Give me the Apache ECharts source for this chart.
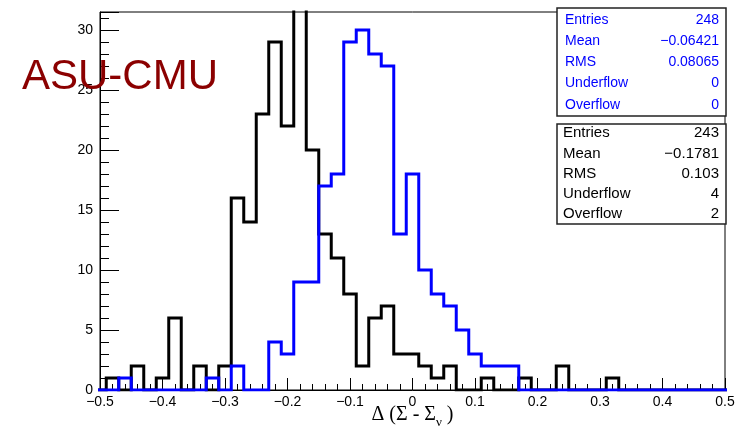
<!DOCTYPE html>
<html>
<head>
<meta charset="utf-8">
<script src="https://cdn.jsdelivr.net/npm/echarts@6/dist/echarts.min.js"></script>
<style>
html,body{margin:0;padding:0;background:#fff;}
#chart{width:744px;height:433px;}
</style>
</head>
<body>
<div id="chart"></div>
<script>
// ---- data ----
const binLow = -0.51;      // lower edge of first bin
const binWidth = 0.02;     // bin width
// counts per bin (bin centres -0.50, -0.48, ..., 0.50)
const blackCounts = [0,1,0,2,0,1,6,0,2,0,2,16,14,23,29,22,36,20,13,11,8,2,6,7,3,3,2,1,2,0,0,1,0,0,1,0,0,2,0,0,0,1,0,0,0,0,0,0,0,0,0];
const blueCounts  = [0,0,1,0,0,0,0,0,0,1,0,2,0,0,4,3,9,9,17,18,29,30,28,27,13,18,10,8,7,5,3,2,2,2,0,0,0,0,0,0,0,0,0,0,0,0,0,0,0,0,0];
const statLabels = ['Entries','Mean','RMS','Underflow','Overflow'];
const blueStats  = ['248','\u22120.06421','0.08065','0','0'];
const blackStats = ['243','\u22120.1781','0.103','4','2'];
const xTitle = '\u0394 (\u03A3 - \u03A3';
const xTitleSub = '\u03BD';
const brand = 'ASU-CMU';

function toSteps(counts){
  const pts = counts.map((c,i)=>[+(binLow+i*binWidth).toFixed(6), c]);
  pts.push([+(binLow+counts.length*binWidth).toFixed(6), counts[counts.length-1]]);
  return pts;
}
const SANS = 'Liberation Sans, Arial, sans-serif';
function fmtNum(v){
  if (Math.abs(v) < 1e-9) return '0';
  const s = Math.abs(v).toFixed(1);
  return (v < 0 ? '\u2212' : '') + s;
}
function statBox(x, y, w, h, rowY, color, fs, lx, rx, vals){
  const children = [{type:'rect', shape:{x:x,y:y,width:w,height:h}, style:{fill:'#fff', stroke:'#222', lineWidth:1.5}}];
  statLabels.forEach((l,i)=>{
    children.push({type:'text', x:lx, y:rowY[i], style:{text:l, fill:color, font:fs+'px '+SANS, textAlign:'left', textVerticalAlign:'middle'}});
    children.push({type:'text', x:rx, y:rowY[i], style:{text:vals[i], fill:color, font:fs+'px '+SANS, textAlign:'right', textVerticalAlign:'middle'}});
  });
  return {type:'group', z:100, children:children};
}

const chart = echarts.init(document.getElementById('chart'), null, {renderer:'canvas'});
chart.setOption({
  animation:false,
  backgroundColor:'#fff',
  grid:{left:100, right:19, top:12, bottom:43, outerBoundsMode:'none', containLabel:false,
        show:true, borderColor:'#000', borderWidth:1, backgroundColor:'transparent'},
  xAxis:{
    type:'value', min:-0.5, max:0.5, interval:0.1,
    axisLine:{show:true, onZero:false, lineStyle:{color:'#000', width:1}},
    axisTick:{show:true, inside:true, length:12, lineStyle:{color:'#000', width:1}},
    minorTick:{show:true, splitNumber:5, length:6, lineStyle:{color:'#000', width:1}},
    splitLine:{show:false}, minorSplitLine:{show:false},
    axisLabel:{color:'#000', fontSize:14, fontFamily:SANS, margin:5, formatter:fmtNum, showMinLabel:true, showMaxLabel:true},
    name:'{m|'+xTitle+'}{s|'+xTitleSub+'}{m| )}',
    nameLocation:'middle', nameGap:15, nameMoveOverlap:false,
    nameTextStyle:{
      rich:{
        m:{fontSize:20, fontFamily:'Liberation Serif, serif', color:'#000', lineHeight:24, verticalAlign:'top'},
        s:{fontSize:13, fontFamily:'Liberation Serif, serif', color:'#000', lineHeight:14, verticalAlign:'bottom', padding:[20,0,0,0]}
      }
    }
  },
  yAxis:{
    type:'value', min:0, max:31.5, interval:5,
    axisLine:{show:true, onZero:false, lineStyle:{color:'#000', width:1}},
    axisTick:{show:true, inside:true, length:19, lineStyle:{color:'#000', width:1}},
    minorTick:{show:true, splitNumber:5, length:9, lineStyle:{color:'#000', width:1}},
    splitLine:{show:false}, minorSplitLine:{show:false},
    axisLabel:{color:'#000', fontSize:14, fontFamily:SANS, margin:7, showMaxLabel:false,
      formatter:function(v){ return (Math.abs(v%5)<1e-9) ? String(v) : ''; }}
  },
  series:[
    {type:'line', step:'end', data:toSteps(blackCounts), symbol:'none', clip:true, z:2,
     lineStyle:{color:'#000', width:3, join:'miter', cap:'butt'}},
    {type:'line', step:'end', data:toSteps(blueCounts), symbol:'none', clip:true, z:3,
     lineStyle:{color:'#0000ff', width:3, join:'miter', cap:'butt'}}
  ],
  graphic:[
    {type:'text', left:22, top:56, z:120, style:{text:brand, fill:'#8B0000', font:'42px '+SANS}},
    statBox(557, 8, 169, 108, [20,41,62,83,105], '#0000ff', 14, 565, 719, blueStats),
    statBox(557, 124, 169, 100, [133,154,174,194,214], '#000', 15, 563, 719, blackStats)
  ]
});
</script>
</body>
</html>
